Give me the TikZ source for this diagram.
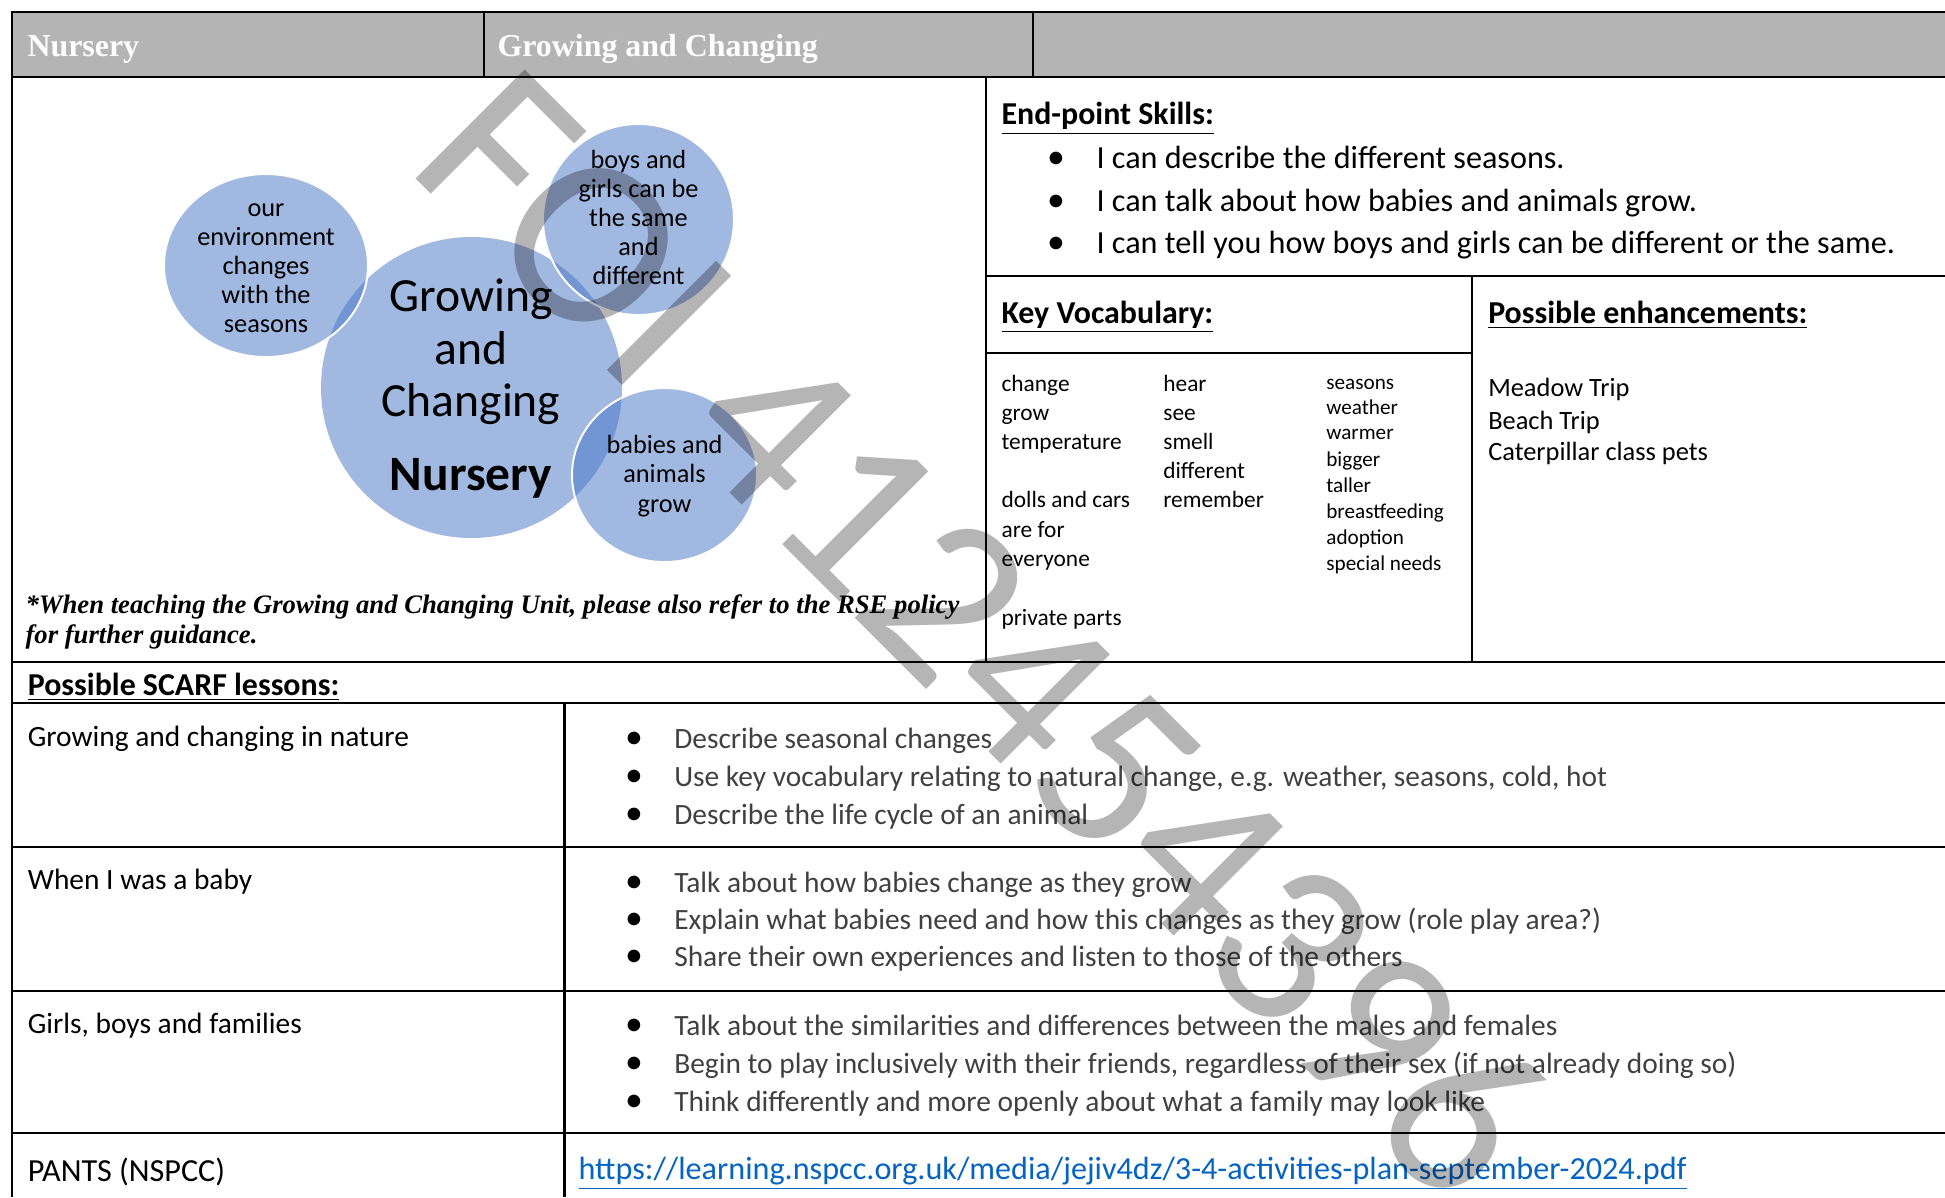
\documentclass[tikz,border=0pt]{standalone}
\usepackage{fontspec}
\setmainfont{Carlito}
\newfontfamily\timesfont{Liberation Serif}
\definecolor{headgray}{RGB}{180,180,180}
\definecolor{bubbleblue}{RGB}{68,114,196}
\definecolor{aimgray}{RGB}{64,64,64}
\definecolor{linkblue}{RGB}{5,99,193}

\begin{document}
\begin{tikzpicture}[x=0.3636pt, y=-0.3636pt,
    rule/.style={line width=0.9pt},
    txt/.style={anchor=base west, inner sep=0pt, font=\fontsize{11.7}{14}\selectfont},
    head/.style={txt, text=white, font=\timesfont\bfseries\fontsize{11.6}{14}\selectfont},
    title/.style={txt, font=\bfseries\fontsize{11.6}{14}\selectfont},
    vocab/.style={txt, font=\fontsize{8.5}{10}\selectfont},
    vocabsmall/.style={txt, font=\fontsize{7.7}{9}\selectfont},
    trip/.style={txt, font=\fontsize{9.6}{11}\selectfont},
    lesson/.style={txt, font=\fontsize{10.7}{13}\selectfont},
    aim/.style={lesson, text=aimgray},
    note/.style={txt, font=\timesfont\bfseries\itshape\fontsize{9.7}{11}\selectfont},
    dot/.style={anchor=base, inner sep=0pt, font=\fontsize{13}{14}\selectfont},
    bubble/.style={fill=bubbleblue, fill opacity=0.5, draw=white, line width=0.7pt},
    bubbletext/.style={align=center, inner sep=0pt, font=\fontsize{9.56}{10.6}\selectfont},
  ]
  \useasboundingbox (0,0) rectangle (1945,1197);
  \clip (0,0) rectangle (1945,1197);

  % header band
  \fill[headgray] (12,12) rectangle (1945,77);
  \node[head] (hyear) at (27,56) {Nursery};
  \node[head] (hunit) at (497,56) {Growing and Changing};

  % table rules
  \draw[rule] (1945,12) -- (12,12) -- (12,1197);
  \draw[rule] (12,77) -- (1945,77);
  \draw[rule] (484,12) -- (484,77);
  \draw[rule] (1033,12) -- (1033,77);
  \draw[rule] (986,77) -- (986,662);
  \draw[rule] (986,276) -- (1945,276);
  \draw[rule] (986,353) -- (1472,353);
  \draw[rule] (1472,276) -- (1472,662);
  \foreach \y in {662,703,847,991,1133}
    \draw[rule] (12,\y) -- (1945,\y);
  \draw[rule] (564.5,703) -- (564.5,1197);

  % bubbles
  \path[bubble, draw=none] (471.5,387.5) circle [radius=150.5];
  \path[bubble] (266,265.5) ellipse [x radius=102, y radius=91.5];
  \path[bubble] (638.5,219.5) circle [radius=95.5];
  \path[bubble] (664.5,475) ellipse [x radius=92.5, y radius=87];

  \node[bubbletext] (env) at (266,268.6)
    {\strut our\\environment\\changes\\with the\\seasons\strut};
  \node[bubbletext] (boys) at (638.5,220.6)
    {\strut boys and\\girls can be\\the same\\and\\different\strut};
  \node[bubbletext] (babies) at (664.5,477)
    {\strut babies and\\animals\\grow\strut};
  \node[bubbletext, font=\fontsize{17.3}{19.1}\selectfont] (topic) at (471,353.5)
    {\strut Growing\\and\\Changing\strut};
  \node[anchor=base, inner sep=0pt, font=\bfseries\fontsize{18}{20}\selectfont] (year) at (471,490.5) {Nursery};

  \node[note] (note1) at (25,613) {*When teaching the Growing and Changing Unit, please also refer to the RSE policy};
  \node[note] (note2) at (25,643) {for further guidance.};

  % end-point skills
  \node[title] (skills) at (1001,124.5) {\underline{End-point Skills:}};
  \node[dot] (sdot1) at (1056,168.5) {\textbullet};
  \node[txt] (skill1) at (1096,168.5) {I can describe the different seasons.};
  \node[dot] (sdot2) at (1056,211) {\textbullet};
  \node[txt] (skill2) at (1096,211) {I can talk about how babies and animals grow.};
  \node[dot] (sdot3) at (1056,253) {\textbullet};
  \node[txt] (skill3) at (1096,253) {I can tell you how boys and girls can be different or the same.};

  % key vocabulary
  \node[title] (vocabtitle) at (1001,323) {\underline{Key Vocabulary:}};
  \node[vocab] (change) at (1001,391.5) {change};
  \node[vocab] (grow) at (1001,420) {grow};
  \node[vocab] (temp) at (1001,449) {temperature};
  \node[vocab] (dolls) at (1001,507.4) {dolls and cars};
  \node[vocab] (arefor) at (1001,537) {are for};
  \node[vocab] (everyone) at (1001,566) {everyone};
  \node[vocab] (private) at (1001,625) {private parts};
  \node[vocab] (hear) at (1162.8,391.5) {hear};
  \node[vocab] (see) at (1162.8,420) {see};
  \node[vocab] (smell) at (1162.8,449) {smell};
  \node[vocab] (diff) at (1162.8,478) {different};
  \node[vocab] (remember) at (1162.8,507.4) {remember};
  \node[vocabsmall] (seasons) at (1325.8,389.6) {seasons};
  \node[vocabsmall] (weather) at (1325.8,414.4) {weather};
  \node[vocabsmall] (warmer) at (1325.8,439.7) {warmer};
  \node[vocabsmall] (bigger) at (1325.8,466) {bigger};
  \node[vocabsmall] (taller) at (1325.8,492) {taller};
  \node[vocabsmall] (breast) at (1325.8,518.5) {breastfeeding};
  \node[vocabsmall] (adoption) at (1325.8,544.5) {adoption};
  \node[vocabsmall] (special) at (1325.8,570.6) {special needs};

  % enhancements
  \node[title] (enhtitle) at (1487.7,323) {\underline{Possible enhancements:}};
  \node[trip] (meadow) at (1487.7,396) {Meadow Trip};
  \node[trip] (beach) at (1487.7,429) {Beach Trip};
  \node[trip] (pets) at (1487.7,460) {Caterpillar class pets};

  % SCARF lessons
  \node[title] (scarf) at (27.3,695) {\underline{Possible SCARF lessons:}};
  \node[lesson] (nature) at (27.3,746) {Growing and changing in nature};
  \node[dot] (ndot1) at (634,748.5) {\textbullet};
  \node[aim] (nature1) at (673.7,748.5) {Describe seasonal changes};
  \node[dot] (ndot2) at (634,786.2) {\textbullet};
  \node[aim] (nature2) at (673.7,786.2) {Use key vocabulary relating to natural change, e.g. weather, seasons, cold, hot};
  \node[dot] (ndot3) at (634,824) {\textbullet};
  \node[aim] (nature3) at (673.7,824) {Describe the life cycle of an animal};

  \node[lesson] (baby) at (27.3,889.5) {When I was a baby};
  \node[dot] (bdot1) at (634,892) {\textbullet};
  \node[aim] (baby1) at (673.7,892) {Talk about how babies change as they grow};
  \node[dot] (bdot2) at (634,929.5) {\textbullet};
  \node[aim] (baby2) at (673.7,929.5) {Explain what babies need and how this changes as they grow (role play area?)};
  \node[dot] (bdot3) at (634,966.5) {\textbullet};
  \node[aim] (baby3) at (673.7,966.5) {Share their own experiences and listen to those of the others};

  \node[lesson] (family) at (27.3,1033) {Girls, boys and families};
  \node[dot] (fdot1) at (634,1035.5) {\textbullet};
  \node[aim] (family1) at (673.7,1035.5) {Talk about the similarities and differences between the males and females};
  \node[dot] (fdot2) at (634,1073) {\textbullet};
  \node[aim] (family2) at (673.7,1073) {Begin to play inclusively with their friends, regardless of their sex (if not already doing so)};
  \node[dot] (fdot3) at (634,1111.5) {\textbullet};
  \node[aim] (family3) at (673.7,1111.5) {Think differently and more openly about what a family may look like};

  \node[txt] (pants) at (27.3,1181.5) {PANTS (NSPCC)};
  \node[txt, text=linkblue] (link) at (578,1179)
    {\underline{https://learning.nspcc.org.uk/media/jejiv4dz/3-4-activities-plan-september-2024.pdf}};

  % watermark
  \node[anchor=base, rotate=-45, inner sep=0pt, text=black, text opacity=0.29,
    font=\fontsize{87.5}{96}\selectfont] (stamp) at (927.7,690.5) {FOI 412454396};
\end{tikzpicture}
\end{document}
